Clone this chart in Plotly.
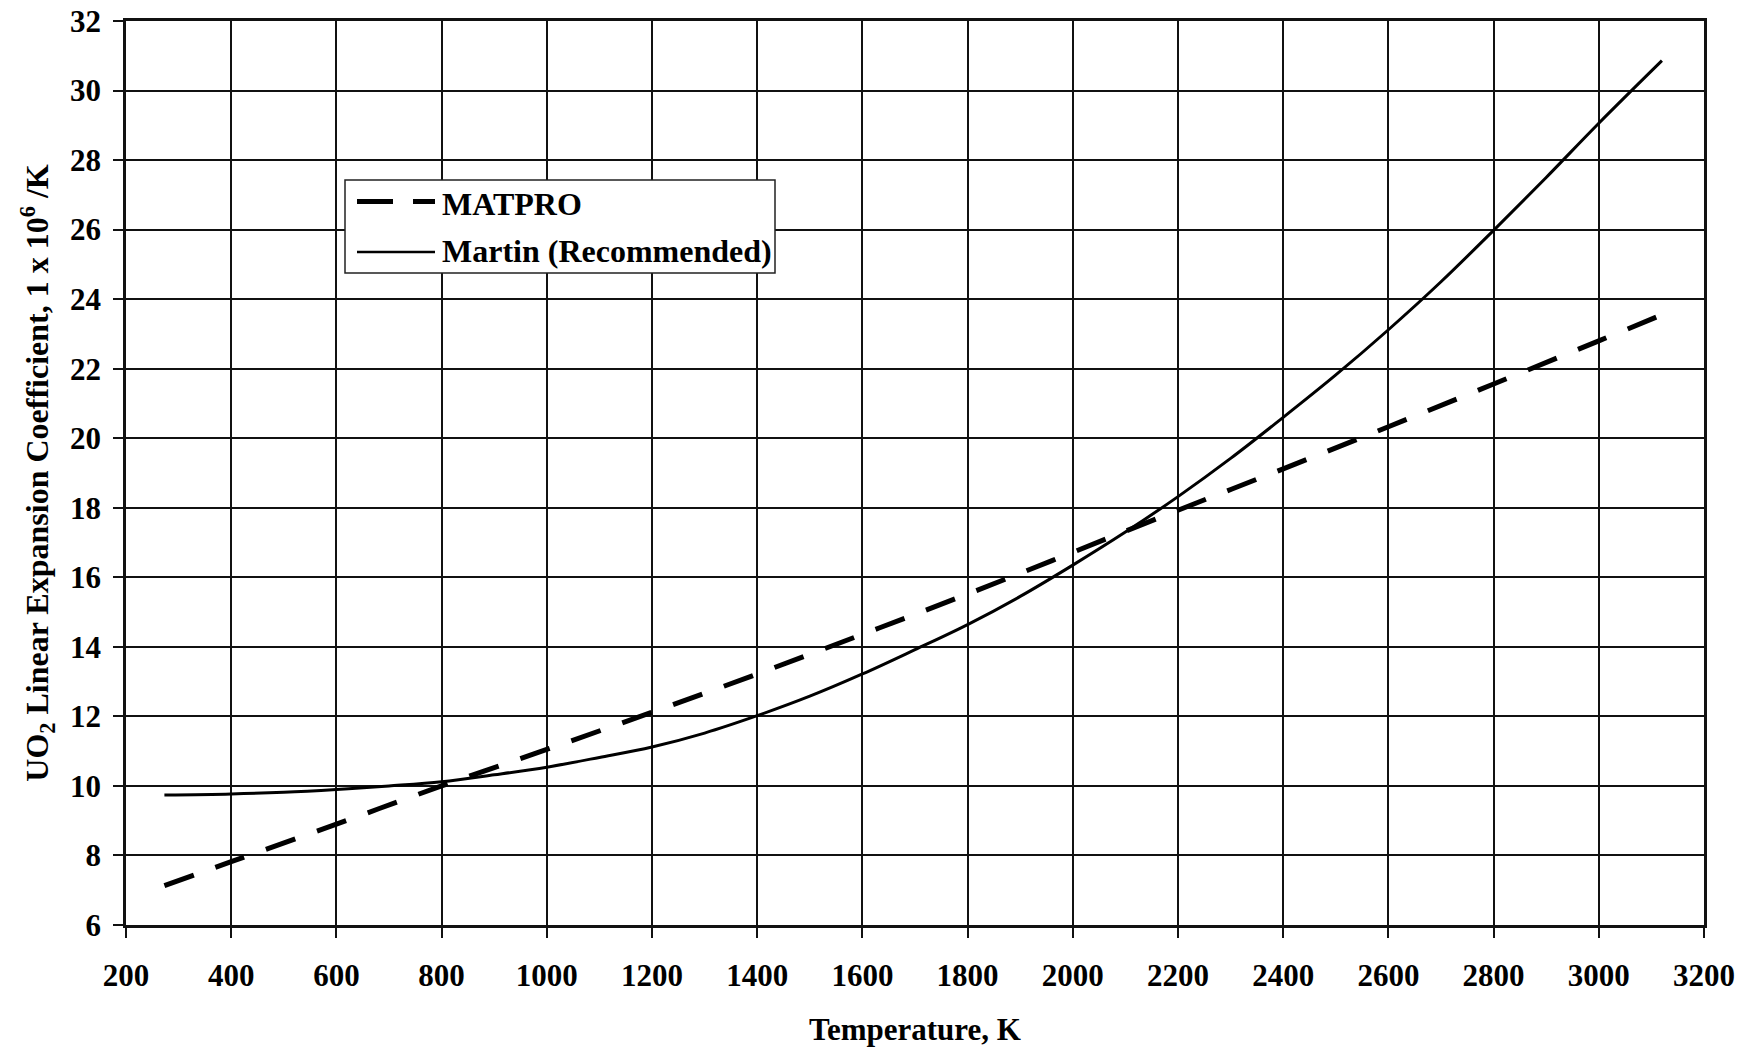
import plotly.graph_objects as go

# ---- data ----
matpro_T = [273, 400, 600, 800, 1000, 1200, 1400, 1600, 1800, 2000, 2200, 2400, 2600, 2800, 3000, 3120]
matpro_alpha = [7.13, 7.82, 8.90, 10.00, 11.05, 12.12, 13.22, 14.36, 15.52, 16.72, 17.93, 19.12, 20.33, 21.56, 22.80, 23.55]

martin_T = [273, 400, 500, 600, 700, 800, 900, 1000, 1100, 1200, 1300, 1400, 1500, 1600, 1700, 1800,
            1900, 2000, 2100, 2200, 2300, 2400, 2500, 2600, 2700, 2800, 2900, 3000, 3120]
martin_alpha = [9.74, 9.77, 9.82, 9.90, 10.00, 10.12, 10.32, 10.54, 10.82, 11.12, 11.52, 12.02, 12.58, 13.22,
                13.92, 14.64, 15.45, 16.35, 17.30, 18.32, 19.42, 20.60, 21.82, 23.12, 24.50, 25.98, 27.50, 29.06, 30.86]

x_ticks = [200, 400, 600, 800, 1000, 1200, 1400, 1600, 1800, 2000, 2200, 2400, 2600, 2800, 3000, 3200]
y_ticks = [6, 8, 10, 12, 14, 16, 18, 20, 22, 24, 26, 28, 30, 32]

series_names = ["MATPRO", "Martin (Recommended)"]

FONT = "Liberation Serif, Times New Roman, serif"

fig = go.Figure()
fig.add_trace(go.Scatter(x=matpro_T, y=matpro_alpha, mode="lines", name=series_names[0],
                         line=dict(color="black", width=5, dash="31px,23px", shape="spline"),
                         showlegend=False))
fig.add_trace(go.Scatter(x=martin_T, y=martin_alpha, mode="lines", name=series_names[1],
                         line=dict(color="black", width=3, shape="spline"),
                         showlegend=False))

axis_common = dict(showgrid=True, gridcolor="#111111", gridwidth=1.6,
                   showline=True, linecolor="#111111", linewidth=2.5, mirror=True,
                   ticks="outside", ticklen=10, tickwidth=1.6, tickcolor="#111111",
                   zeroline=False, automargin=False,
                   tickfont=dict(family=FONT, size=31, color="black", weight="bold"))

fig.update_xaxes(range=[200, 3200], tickvals=x_ticks, ticktext=[str(v) for v in x_ticks],
                 ticklabelstandoff=11,
                 title=dict(text="Temperature, K", standoff=27,
                            font=dict(family=FONT, size=31, color="black", weight="bold")),
                 **axis_common)
fig.update_yaxes(range=[6, 32], tickvals=y_ticks, ticktext=[str(v) for v in y_ticks],
                 ticklabelstandoff=6,
                 title=dict(text="UO<sub>2</sub> Linear Expansion Coefficient, 1 x 10<sup>6</sup> /K", standoff=12,
                            font=dict(family=FONT, size=32, color="black", weight="bold")),
                 **axis_common)

# ---- legend drawn as a boxed key ----
PLOT_L, PLOT_R, PLOT_T, PLOT_B = 126, 1704, 21, 925
def px(xp):
    return (xp - PLOT_L) / (PLOT_R - PLOT_L)
def py(yp):
    return (PLOT_B - yp) / (PLOT_B - PLOT_T)

shapes = [
    dict(type="rect", xref="paper", yref="paper", x0=px(345), x1=px(775), y0=py(273), y1=py(180),
         line=dict(color="#222222", width=1.5), fillcolor="white", layer="above"),
    dict(type="line", xref="paper", yref="paper", x0=px(357), x1=px(435), y0=py(201.5), y1=py(201.5),
         line=dict(color="black", width=5, dash="36px,20px"), layer="above"),
    dict(type="line", xref="paper", yref="paper", x0=px(357), x1=px(435), y0=py(252), y1=py(252),
         line=dict(color="black", width=2.4), layer="above"),
]
annotations = [
    dict(text=series_names[0], xref="paper", yref="paper", x=px(440), y=py(204), xanchor="left", yanchor="middle",
         showarrow=False, font=dict(family=FONT, size=32, color="black", weight="bold")),
    dict(text=series_names[1], xref="paper", yref="paper", x=px(440), y=py(251), xanchor="left", yanchor="middle",
         showarrow=False, font=dict(family=FONT, size=32, color="black", weight="bold")),
]

fig.update_layout(width=1757, height=1056,
                  margin=dict(l=PLOT_L, r=1757 - PLOT_R, t=PLOT_T, b=1056 - PLOT_B, autoexpand=False),
                  paper_bgcolor="white", plot_bgcolor="white",
                  shapes=shapes, annotations=annotations, showlegend=False)

fig.write_html("out.html")
